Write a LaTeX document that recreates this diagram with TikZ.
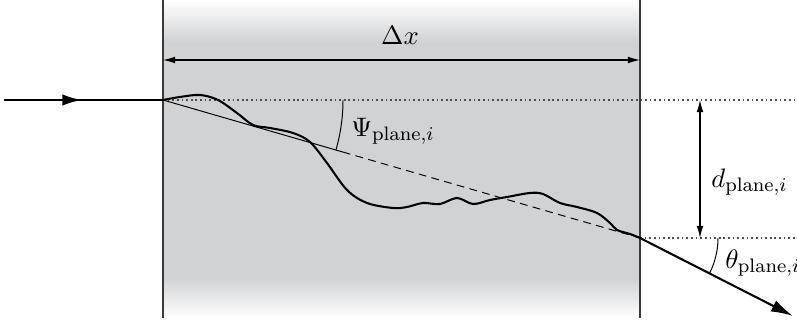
\documentclass[11pt,tikz,border=0pt]{standalone}
\usepackage{amsmath}
\usetikzlibrary{arrows.meta,positioning,calc}
\definecolor{slabgray}{HTML}{D1D2D4}
\definecolor{wallline}{HTML}{3A3A3A}

\begin{document}
\begin{tikzpicture}[x=0.0144cm, y=-0.0144cm,
    wall/.style={draw=wallline, line width=0.55pt},
    ray/.style={line width=0.85pt, line cap=round},
    guide/.style={draw=black!70, line width=0.45pt, dash pattern=on 0.7pt off 1.2pt},
    fitline/.style={line width=0.4pt},
    dimarrow/.style={line width=0.45pt,
      {Latex[length=5pt,width=2.8pt]}-{Latex[length=5pt,width=2.8pt]}}]
  \useasboundingbox (0,0) rectangle (797,322);
  % slab with faded ends
  \shade[top color=white, bottom color=slabgray] (163,0) rectangle (640,42);
  \fill[slabgray] (163,42) rectangle (640,278);
  \shade[top color=slabgray, bottom color=white] (163,278) rectangle (640,318);
  \draw[wall] (163,0) -- (163,318);
  \draw[wall] (640,0) -- (640,318);

  \coordinate (src) at (5,100);
  \coordinate (srcmid) at (82,100);
  \coordinate (entry) at (163,100);
  \coordinate (exit) at (640,238);
  \coordinate (sink) at (793,316);
  \coordinate (guideA) at (797,100);
  \coordinate (guideB) at (797,238);

  % width of the slab
  \coordinate (dxL) at (163,60);
  \coordinate (dxR) at (640,60);
  \draw[dimarrow] (dxL) -- (dxR);
  \node (dxlabel) at (400,35) {$\Delta x$};

  % reference lines
  \draw[guide] (entry) -- (guideA);
  \draw[guide] (exit) -- (guideB);

  % straight fit through the slab
  \draw[fitline] (entry) -- ($(entry)!0.377!(exit)$) coordinate (fitmid);
  \draw[fitline, dash pattern=on 3.2pt off 2.2pt] (fitmid) -- (exit);
  \draw[fitline] (343,100) arc[start angle=0, end angle=16.1, radius=180];
  \node[anchor=west] (psilabel) at (342,131) {$\Psi_{\mathrm{plane},i}$};

  % lateral shift
  \coordinate (dtop) at (700,100);
  \coordinate (dbot) at (700,238);
  \draw[dimarrow] (dtop) -- (dbot);
  \node[anchor=west] (dlabel) at (702,182) {$d_{\mathrm{plane},i}$};

  % exit angle
  \draw[fitline] (718,238) arc[start angle=0, end angle=26.7, radius=78];
  \node[anchor=west] (thetalabel) at (716,263) {$\theta_{\mathrm{plane},i}$};

  % rays
  \draw[ray] (src) -- (entry);
  \draw[ray, -{Latex[length=8pt,width=4.6pt]}] (src) -- (srcmid);
  \draw[ray, line cap=butt, -{Latex[length=9pt,width=5pt]}] (exit) -- (sink);
  \draw[ray] plot[smooth, tension=0.55] coordinates {
    (163,100) (180,97) (200,95) (218,100) (237,113) (253,125) (270,128)
    (293,133) (310,142) (327,163) (347,190) (367,203) (393,208) (407,207)
    (423,203) (440,204) (457,198) (473,204) (490,200) (507,197) (530,193)
    (543,194) (560,203) (577,207) (597,213) (610,223) (617,230) (630,234)
    (640,238)};
\end{tikzpicture}
\end{document}
